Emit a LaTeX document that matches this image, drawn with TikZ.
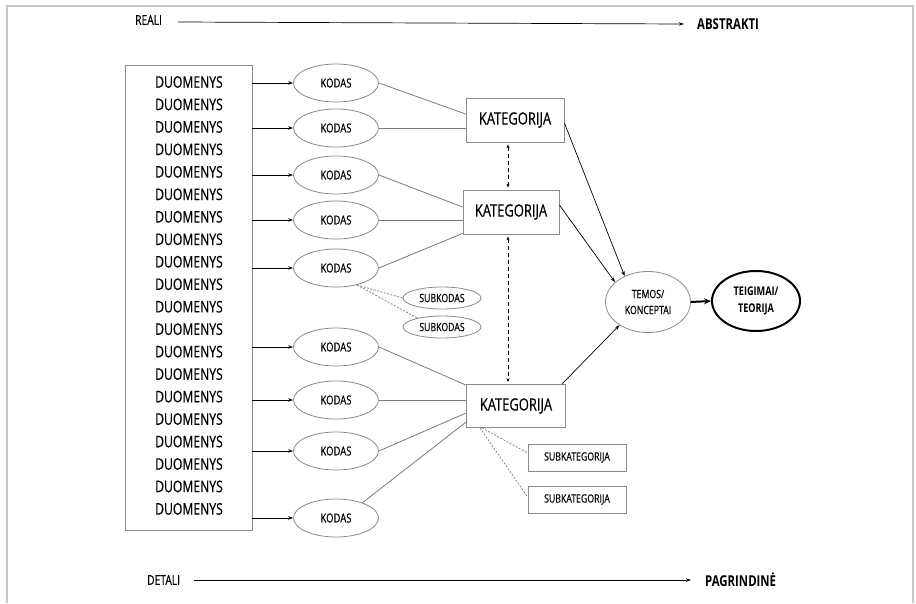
\documentclass[tikz,border=0pt]{standalone}
\usepackage{fontspec}
\setmainfont{Open Sans}[FakeStretch=0.76,UprightFeatures={FakeBold=0.4}]
\usetikzlibrary{shapes.geometric,arrows.meta}
\definecolor{bord}{HTML}{8A8A8A}
\definecolor{ln}{HTML}{7A7A7A}
\begin{document}
\begin{tikzpicture}[x=1pt,y=-1pt,
  kodas/.style={ellipse,draw=bord,line width=0.8pt,minimum width=85pt,minimum height=38pt,inner sep=0pt,font=\fontsize{12.5}{13}\selectfont},
  subk/.style={ellipse,draw=bord,line width=0.8pt,minimum width=78pt,minimum height=22pt,inner sep=0pt,font=\fontsize{11.5}{12}\selectfont},
  katbox/.style={rectangle,draw=bord,line width=0.8pt,minimum width=98pt,minimum height=44pt,inner sep=0pt,font=\fontsize{17}{18}\selectfont},
  skbox/.style={rectangle,draw=bord,line width=0.8pt,minimum width=98pt,minimum height=27pt,inner sep=0pt,font=\fontsize{11.5}{12}\selectfont},
  lbl/.style={inner sep=0pt,font=\fontsize{13.5}{15}\selectfont},
  lblb/.style={inner sep=0pt,font=\fontsize{15}{16}\selectfont\bfseries},
  arr/.style={-{Stealth[length=5pt,width=3.5pt]},line width=0.7pt},
  conn/.style={draw=ln,line width=0.8pt},
  dsh/.style={draw=ln,line width=0.7pt,dash pattern=on 2pt off 1.5pt},
  dbl/.style={{Stealth[length=4pt,width=3pt]}-{Stealth[length=4pt,width=3pt]},line width=0.7pt,dash pattern=on 4pt off 3pt,shorten <=2pt,shorten >=2pt}
]
\useasboundingbox (0,0) rectangle (916,603);
\draw[gray!45,line width=1.6pt] (7,603) -- (7,6) -- (913,6) -- (913,603);

% axes
\node[lbl,anchor=west] (reali) at (135,20) {REALI};
\node[lblb,anchor=west] (abstr) at (697,24) {ABSTRAKTI};
\draw[arr] ([xshift=16pt,yshift=-2pt]reali.east) -- ([xshift=-13pt]abstr.west);
\node[lbl,anchor=west] (detali) at (147,580) {DETALI};
\node[lblb,anchor=west] (pagr) at (705,580) {PAGRINDINĖ};
\draw[arr] ([xshift=14pt]detali.east) -- ([xshift=-14pt]pagr.west);

% data box
\node[draw=bord,line width=0.9pt,minimum width=127pt,minimum height=465pt,inner sep=0pt] (duo) at (188.5,297.5) {};
\foreach \i in {0,...,19}{
  \node[font=\fontsize{16}{17}\selectfont,inner sep=0pt] (d\i) at (189,{82+\i*22.47}) {DUOMENYS};
}

% codes
\node[kodas] (k1) at (336,83) {KODAS};
\node[kodas] (k2) at (336,128) {KODAS};
\node[kodas] (k3) at (336,175) {KODAS};
\node[kodas] (k4) at (336,220) {KODAS};
\node[kodas] (k5) at (336,268) {KODAS};
\node[kodas] (k6) at (336,347) {KODAS};
\node[kodas] (k7) at (336,400) {KODAS};
\node[kodas] (k8) at (336,451) {KODAS};
\node[kodas] (k9) at (336,518) {KODAS};
\foreach \k in {k1,k2,k3,k4,k5,k6,k7,k8,k9}{
  \draw[arr] (duo.east |- \k.west) -- (\k.west);
}

\node[subk] (s1) at (442,298) {SUBKODAS};
\node[subk] (s2) at (442,327) {SUBKODAS};
\draw[dsh] (k5.-39) -- (s1.west);
\draw[dsh] (k5.-39) -- (s2.160);

% categories
\node[katbox] (c1) at (515,120) {KATEGORIJA};
\node[katbox,minimum width=96pt] (c2) at (511,212) {KATEGORIJA};
\node[katbox,minimum width=99pt,minimum height=43pt] (c3) at (516,406) {KATEGORIJA};

\draw[conn] (k1.east) -- ([yshift=6pt]c1.west);
\draw[conn] (k2.east) -- ([yshift=-8pt]c1.west);
\draw[conn] (k3.east) -- ([yshift=5pt]c2.west);
\draw[conn] (k4.east) -- ([yshift=-8pt]c2.west);
\draw[conn] (k5.east) -- ([yshift=1pt]c2.south west);
\draw[conn] (k6.east) -- ([yshift=-1pt]c3.north west);
\draw[conn] (k7.east) -- ([yshift=6pt]c3.west);
\draw[conn] (k8.east) -- ([yshift=-7pt]c3.west);
\draw[conn] (k9.30) -- ([yshift=-16pt]c3.west);

\draw[dbl] ([xshift=-7pt]c1.south) -- ([xshift=-3pt]c2.north);
\draw[dbl] ([xshift=-3pt]c2.south) -- ([xshift=-8pt]c3.north);

\node[skbox] (sk1) at (577,457.5) {SUBKATEGORIJA};
\node[skbox] (sk2) at (577,499.5) {SUBKATEGORIJA};
\draw[dsh] ([xshift=-34pt]c3.south) -- ([yshift=4.5pt]sk1.west);
\draw[dsh] ([xshift=-36pt]c3.south) -- ([yshift=2.5pt]sk2.west);

% themes
\node[ellipse,draw=bord,line width=0.8pt,minimum width=85pt,minimum height=61pt,inner sep=0pt,align=center,font=\fontsize{11.5}{16}\selectfont] (tem) at (648,302) {TEMOS/\\KONCEPTAI};
\node[ellipse,draw=black,line width=2pt,minimum width=88pt,minimum height=60pt,inner sep=0pt,align=center,font=\fontsize{12}{17}\selectfont\bfseries] (teo) at (756,301) {TEIGIMAI/\\TEORIJA};

\draw[arr] ([yshift=-3pt]c1.east) -- (tem.132);
\draw[arr] ([yshift=7pt]c2.east) -- (tem.149);
\draw[arr] ([xshift=-4pt]c3.north east) -- (tem.219);
\draw[-{Stealth[length=7pt,width=6pt]},line width=2pt] (tem.east) -- (teo.west);
\end{tikzpicture}
\end{document}
